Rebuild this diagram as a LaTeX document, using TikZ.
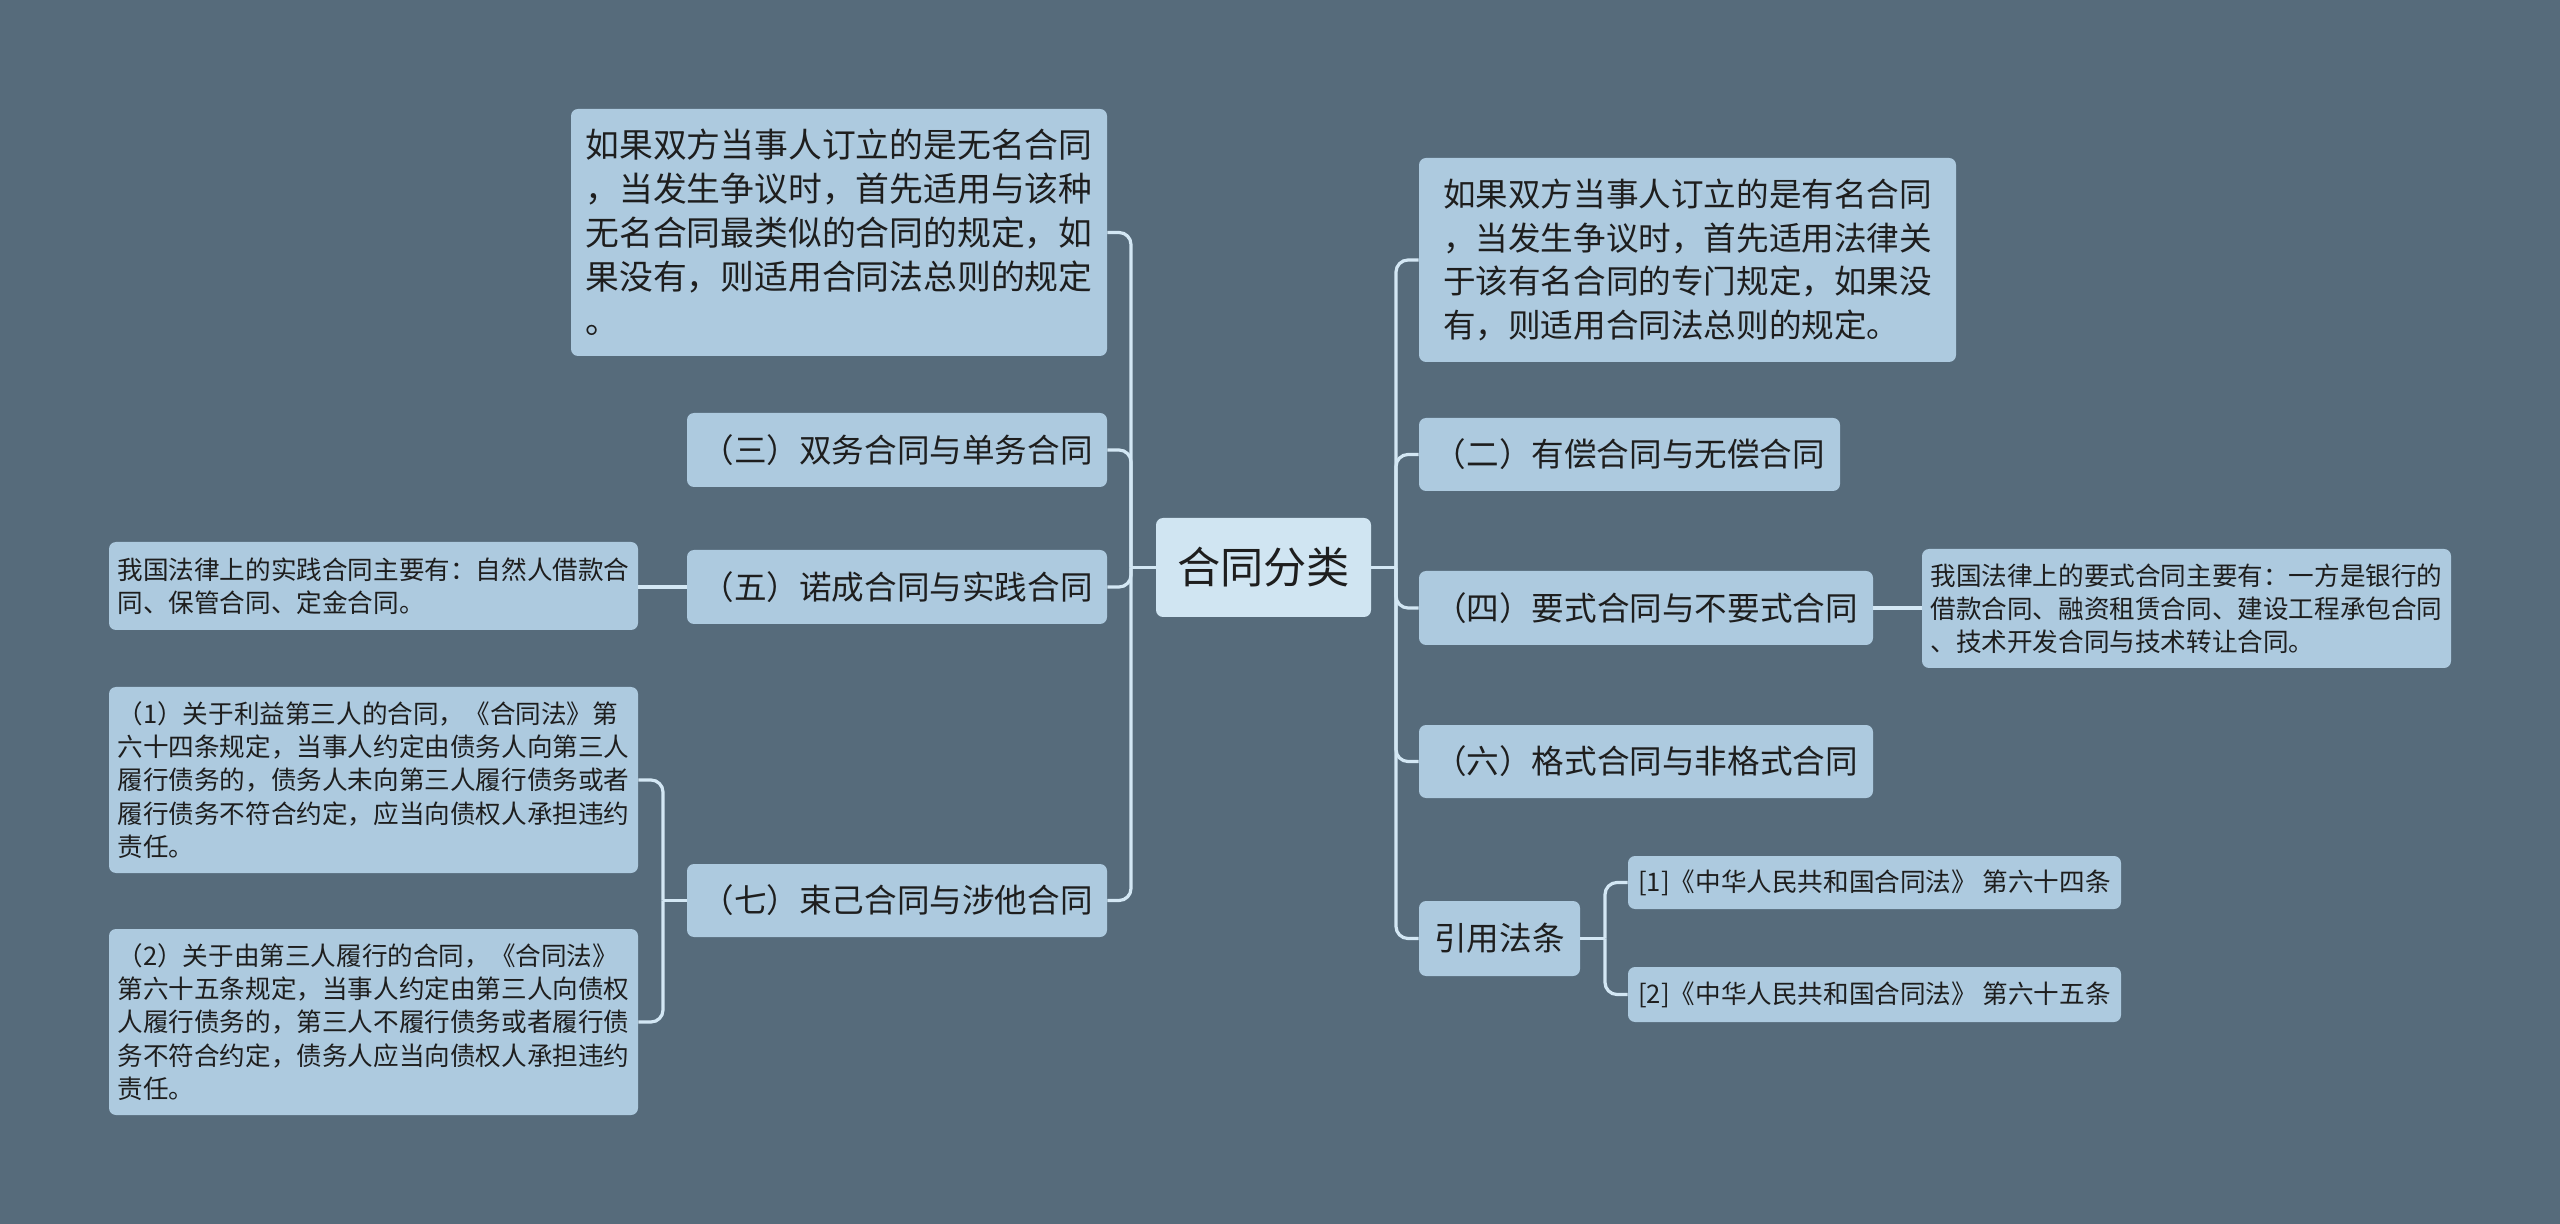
\documentclass[tikz,border=0pt]{standalone}
\usepackage{fontspec}
\newfontfamily\cjk{Noto Sans CJK SC}
\definecolor{bg}{HTML}{566B7B}
\definecolor{nodefill}{HTML}{ADCADF}
\definecolor{rootfill}{HTML}{D0E5F2}
\definecolor{linec}{HTML}{D3E7F4}
\definecolor{textc}{HTML}{1E1E1E}
\begin{document}
\begin{tikzpicture}[x=0.5pt,y=-0.5pt,
  box/.style={draw=none, fill=nodefill, rounded corners=3.5pt, text=textc, align=left, inner sep=0pt, font=\cjk\fontsize{16.3}{21.8}\selectfont},
  bigbox/.style={box, font=\cjk\fontsize{16.9}{22}\selectfont},
  rootbox/.style={box, fill=rootfill, font=\cjk\fontsize{21.6}{26}\selectfont},
  small/.style={box, font=\cjk\fontsize{12.8}{16.6}\selectfont},
  conn/.style={draw=linec, line width=1.6pt, rounded corners=6pt}]
\fill[bg] (0,0) rectangle (2560,1224);
\useasboundingbox (0,0) rectangle (2560,1224);

% root
\node[rootbox, minimum width=107.5pt, minimum height=49.5pt] (root) at (1263.5,567.5) {合同分类};

% right side
\node[box, minimum width=268.5pt, minimum height=102pt] (R1) at (1687.5,260) {如果双方当事人订立的是有名合同\\，当发生争议时，首先适用法律关\\于该有名合同的专门规定，如果没\\有，则适用合同法总则的规定。};
\node[box, minimum width=210.5pt, minimum height=36.5pt] (R2) at (1629.5,454.5) {（二）有偿合同与无偿合同};
\node[box, minimum width=227pt, minimum height=37pt] (R3) at (1646,608) {（四）要式合同与不要式合同};
\node[small, minimum width=264.5pt, minimum height=59.5pt] (R3c) at (2186.5,608.5) {我国法律上的要式合同主要有：一方是银行的\\借款合同、融资租赁合同、建设工程承包合同\\、技术开发合同与技术转让合同。};
\node[box, minimum width=227pt, minimum height=36.5pt] (R4) at (1646,761.5) {（六）格式合同与非格式合同};
\node[box, minimum width=80.5pt, minimum height=37.5pt] (R5) at (1499.5,938.5) {引用法条};
\node[small, minimum width=246.5pt, minimum height=26.5pt] (R5c1) at (1874.5,882.5) {[1]《中华人民共和国合同法》 第六十四条};
\node[small, minimum width=246.5pt, minimum height=27.5pt] (R5c2) at (1874.5,994.5) {[2]《中华人民共和国合同法》 第六十五条};

% left side
\node[bigbox, minimum width=268pt, minimum height=123.5pt] (L1) at (839,232.5) {如果双方当事人订立的是无名合同\\，当发生争议时，首先适用与该种\\无名合同最类似的合同的规定，如\\果没有，则适用合同法总则的规定\\。};
\node[box, minimum width=210pt, minimum height=37pt] (L2) at (897,450) {（三）双务合同与单务合同};
\node[box, minimum width=210pt, minimum height=37pt] (L3) at (897,587) {（五）诺成合同与实践合同};
\node[small, minimum width=264.5pt, minimum height=44pt] (L3c) at (373.5,586) {我国法律上的实践合同主要有：自然人借款合\\同、保管合同、定金合同。};
\node[box, minimum width=210pt, minimum height=36.5pt] (L4) at (897,900.5) {（七）束己合同与涉他合同};
\node[small, minimum width=264.5pt, minimum height=93pt] (L4c1) at (373.5,780) {（1）关于利益第三人的合同，《合同法》第\\六十四条规定，当事人约定由债务人向第三人\\履行债务的，债务人未向第三人履行债务或者\\履行债务不符合约定，应当向债权人承担违约\\责任。};
\node[small, minimum width=264.5pt, minimum height=93pt] (L4c2) at (373.5,1022) {（2）关于由第三人履行的合同，《合同法》\\第六十五条规定，当事人约定由第三人向债权\\人履行债务的，第三人不履行债务或者履行债\\务不符合约定，债务人应当向债权人承担违约\\责任。};

% connectors
\coordinate (rs) at (1396,567.5);
\coordinate (ls) at (1131,567.5);
\draw[conn] (root.east) -- (rs);
\draw[conn] (root.west) -- (ls);
\foreach \n in {R1,R2,R3,R4,R5} \draw[conn] (rs) |- (\n.west);
\foreach \n in {L1,L2,L3,L4} \draw[conn] (ls) |- (\n.east);
\draw[conn] (R3.east) -- (R3.east -| R3c.west);
\draw[conn] (L3.west) -- (L3.west -| L3c.east);
\coordinate (l4s) at (663,900.5);
\draw[conn] (L4.west) -- (l4s);
\draw[conn] (l4s) |- (L4c1.east);
\draw[conn] (l4s) |- (L4c2.east);
\coordinate (r5s) at (1605,938.5);
\draw[conn] (R5.east) -- (r5s);
\draw[conn] (r5s) |- (R5c1.west);
\draw[conn] (r5s) |- (R5c2.west);
\end{tikzpicture}
\end{document}
